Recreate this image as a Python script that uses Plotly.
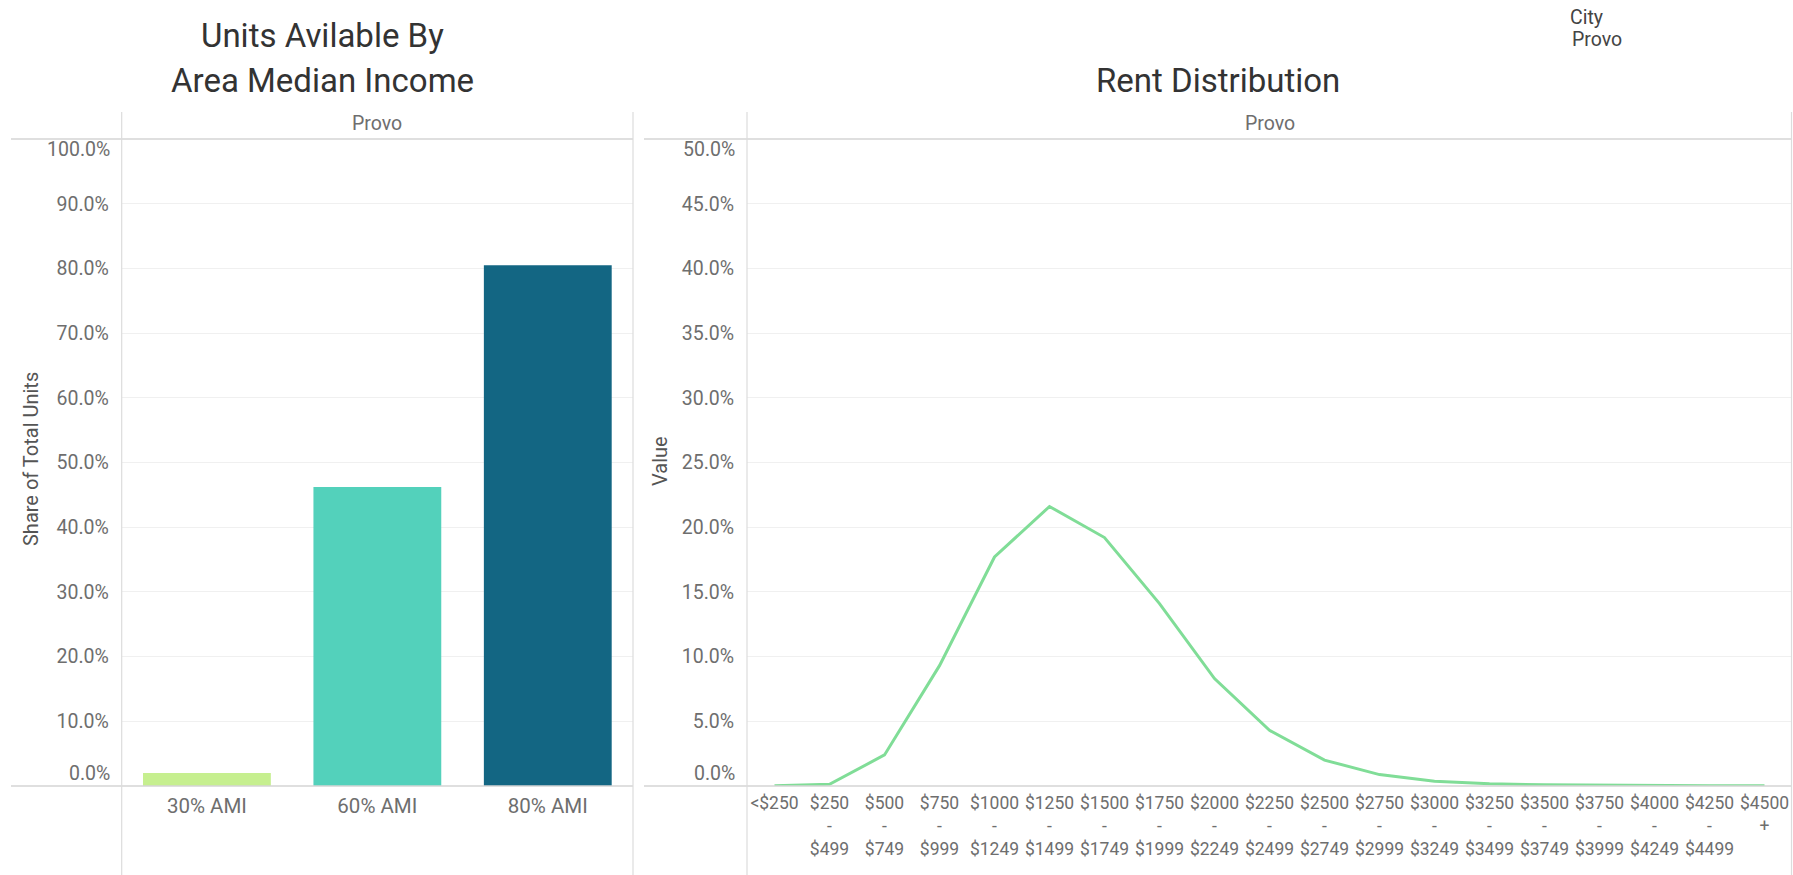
import plotly.graph_objects as go

# ---------------- data ----------------
ami_categories = ["30% AMI", "60% AMI", "80% AMI"]
ami_share = [0.020, 0.462, 0.805]
ami_colors = ["#c6ef8f", "#53d1bb", "#136683"]

rent_bins = ["<$250", "$250-$499", "$500-$749", "$750-$999", "$1000-$1249",
             "$1250-$1499", "$1500-$1749", "$1750-$1999", "$2000-$2249",
             "$2250-$2499", "$2500-$2749", "$2750-$2999", "$3000-$3249",
             "$3250-$3499", "$3500-$3749", "$3750-$3999", "$4000-$4249",
             "$4250-$4499", "$4500+"]
rent_share = [0.0001, 0.0013, 0.024, 0.093, 0.177, 0.216, 0.192, 0.141, 0.083,
              0.043, 0.020, 0.0088, 0.0037, 0.0018, 0.0009, 0.0005, 0.0003,
              0.0002, 0.0001]

left_ticks = [0.1, 0.2, 0.3, 0.4, 0.5, 0.6, 0.7, 0.8, 0.9]
right_ticks = [0.05, 0.10, 0.15, 0.20, 0.25, 0.30, 0.35, 0.40, 0.45]
left_max = 1.0
right_max = 0.5

city_name = "Provo"

# ---------------- layout helpers ----------------
W, H = 1793, 875


def px(x):
    return x / W


def py(y):
    return 1 - y / H


FONT = "Roboto, DejaVu Sans Condensed, sans-serif"
TICK_COLOR = "#6e6e6e"
LINE_COLOR = "#d4d4d4"
GRID_COLOR = "#f0f0f0"

PLOT_TOP, PLOT_BOT = 139, 786
L_X0, L_X1 = 121.7, 633
R_X0, R_X1 = 747, 1792


def fmt_pct(v):
    return f"{v * 100:.1f}%"


def rent_label(s):
    s = s.replace("<", "&lt;")
    if "-" in s:
        a, b = s.split("-")
        return f"{a}<br>-<br>{b}"
    if s.endswith("+"):
        return s[:-1] + "<br>+"
    return s


fig = go.Figure()

fig.add_trace(go.Bar(
    x=ami_categories, y=ami_share, marker=dict(color=ami_colors, line=dict(width=0)),
    width=0.75, xaxis="x", yaxis="y", showlegend=False,
    hovertemplate="%{x}: %{y:.1%}<extra></extra>"))

fig.add_trace(go.Scatter(
    x=rent_bins, y=rent_share, mode="lines",
    line=dict(color="#80dd97", width=3), xaxis="x2", yaxis="y2", showlegend=False,
    hovertemplate="%{x}: %{y:.1%}<extra></extra>"))

common_y = dict(showgrid=True, gridcolor=GRID_COLOR, gridwidth=1, zeroline=False,
                showline=False, ticks="outside", ticklen=8, tickcolor="rgba(0,0,0,0)",
                tickfont=dict(family=FONT, size=19.5, color=TICK_COLOR), fixedrange=True)

fig.update_layout(
    width=W, height=H, margin=dict(l=0, r=0, t=0, b=0),
    paper_bgcolor="white", plot_bgcolor="white", bargap=0.25,
    xaxis=dict(domain=[px(L_X0), px(L_X1)], range=[-0.5, 2.5], type="category",
               showgrid=False, zeroline=False, showline=False, ticks="outside",
               ticklen=1, tickcolor="rgba(0,0,0,0)", tickangle=0,
               tickfont=dict(family=FONT, size=20.5, color=TICK_COLOR), fixedrange=True),
    yaxis=dict(domain=[py(PLOT_BOT), py(PLOT_TOP)], range=[0, left_max],
               tickvals=left_ticks, ticktext=[fmt_pct(v) for v in left_ticks], **common_y),
    xaxis2=dict(domain=[px(R_X0), px(R_X1)], type="category",
                range=[-0.5, len(rent_bins) - 0.5], anchor="y2",
                tickvals=rent_bins, ticktext=[rent_label(s) for s in rent_bins],
                showgrid=False, zeroline=False, showline=False, ticks="outside",
                ticklen=1, tickcolor="rgba(0,0,0,0)", tickangle=0,
                tickfont=dict(family=FONT, size=17.5, color=TICK_COLOR), fixedrange=True),
    yaxis2=dict(domain=[py(PLOT_BOT), py(PLOT_TOP)], range=[0, right_max], anchor="x2",
                tickvals=right_ticks, ticktext=[fmt_pct(v) for v in right_ticks], **common_y),
)

shapes = []


def hline(y, x0, x1, color=LINE_COLOR, w=1.5):
    shapes.append(dict(type="line", xref="paper", yref="paper", x0=px(x0), x1=px(x1),
                       y0=py(y), y1=py(y), line=dict(color=color, width=w), layer="above"))


def vline(x, y0, y1, color="#dcdcdc", w=1.2):
    shapes.append(dict(type="line", xref="paper", yref="paper", x0=px(x), x1=px(x),
                       y0=py(y0), y1=py(y1), line=dict(color=color, width=w), layer="above"))


hline(PLOT_TOP, 11, 633)
hline(PLOT_BOT, 11, 633)
hline(PLOT_TOP, 644, 1792)
hline(PLOT_BOT, 644, 1792)
vline(L_X0, 112, H)
vline(633, 112, H)
vline(R_X0, 112, H)
vline(1791.5, 112, H)
fig.update_layout(shapes=shapes)

ann = []
TITLE_COLOR = "#333333"
ann.append(dict(text="Units Avilable By", x=px(322), y=py(35), xref="paper", yref="paper",
                showarrow=False, xanchor="center", yanchor="middle",
                font=dict(family=FONT, size=33, color=TITLE_COLOR)))
ann.append(dict(text="Area Median Income", x=px(322), y=py(81), xref="paper", yref="paper",
                showarrow=False, xanchor="center", yanchor="middle",
                font=dict(family=FONT, size=33, color=TITLE_COLOR)))
ann.append(dict(text="Rent Distribution", x=px(1218), y=py(81), xref="paper", yref="paper",
                showarrow=False, xanchor="center", yanchor="middle",
                font=dict(family=FONT, size=33, color=TITLE_COLOR)))
# facet headers
for cx in [(L_X0 + L_X1) / 2, (R_X0 + R_X1) / 2]:
    ann.append(dict(text=city_name, x=px(cx), y=py(123), xref="paper", yref="paper",
                    showarrow=False, xanchor="center", yanchor="middle",
                    font=dict(family=FONT, size=19.5, color="#6e6e6e")))
# filter caption
ann.append(dict(text="City", x=px(1568), y=py(17), xref="paper", yref="paper",
                showarrow=False, xanchor="left", yanchor="middle",
                font=dict(family=FONT, size=19.5, color="#444444")))
ann.append(dict(text=city_name, x=px(1570), y=py(39), xref="paper", yref="paper",
                showarrow=False, xanchor="left", yanchor="middle",
                font=dict(family=FONT, size=19.5, color="#444444")))
# axis titles
ann.append(dict(text="Share of Total Units", x=px(31), y=py(459), xref="paper", yref="paper",
                showarrow=False, xanchor="center", yanchor="middle", textangle=-90,
                font=dict(family=FONT, size=20, color="#555555")))
ann.append(dict(text="Value", x=px(660), y=py(461), xref="paper", yref="paper",
                showarrow=False, xanchor="center", yanchor="middle", textangle=-90,
                font=dict(family=FONT, size=20, color="#555555")))
# edge tick labels (nudged inward like the original)
for yr, xpos, vmax in [("y", L_X0 - 10, left_max), ("y2", R_X0 - 10, right_max)]:
    ann.append(dict(text=fmt_pct(vmax), x=px(xpos), y=vmax, xref="paper", yref=yr, yshift=-11,
                    showarrow=False, xanchor="right", yanchor="middle",
                    font=dict(family=FONT, size=19.5, color=TICK_COLOR)))
    ann.append(dict(text=fmt_pct(0), x=px(xpos), y=0, xref="paper", yref=yr, yshift=13,
                    showarrow=False, xanchor="right", yanchor="middle",
                    font=dict(family=FONT, size=19.5, color=TICK_COLOR)))
fig.update_layout(annotations=ann)

fig.write_html("out.html", config={"displayModeBar": False},
               post_script="document.body.style.margin='0';document.body.style.overflow='hidden';")
